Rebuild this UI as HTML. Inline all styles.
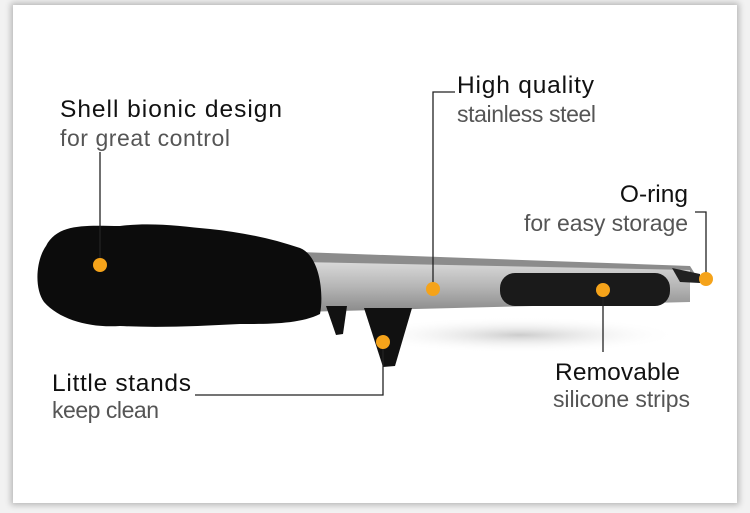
<!DOCTYPE html>
<html><head><style>
body{margin:0;background:#f2f2f2;}
.c{position:absolute;left:13px;top:5px;width:724px;height:498px;background:#fff;box-shadow:0 0 6px 2px rgba(0,0,0,0.25);}
svg{position:absolute;left:0;top:0}
text{font-family:"Liberation Sans",sans-serif;font-size:24.5px}
.b{fill:#111}
.g{fill:#555;font-size:23px}
</style></head><body>
<div class="c"></div>
<svg width="750" height="513" viewBox="0 0 750 513">
<defs><linearGradient id="st" x1="0" y1="0" x2="0" y2="1">
<stop offset="0" stop-color="#d9d9d9"/><stop offset="0.5" stop-color="#b5b5b5"/><stop offset="1" stop-color="#8a8a8a"/></linearGradient>
<radialGradient id="sh" cx="0.5" cy="0.5" r="0.5"><stop offset="0" stop-color="#ccc"/><stop offset="1" stop-color="#fff" stop-opacity="0"/></radialGradient></defs>
<ellipse cx="520" cy="335" rx="160" ry="18" fill="url(#sh)"/>
<polygon points="300,252 690,266 695,274 300,262" fill="#8c8c8c"/>
<polygon points="300,262 690,270 690,302 300,312" fill="url(#st)"/>
<rect x="500" y="273" width="170" height="33" rx="15" fill="#1a1a1a"/>
<path d="M672,268 L700,274 L700,283 L680,282Z" fill="#222"/>
<path d="M326,306 L347,306 L343,334 L336,335Z" fill="#111"/>
<path d="M364,308 L412,308 L395,366 L383,367Z" fill="#111"/>
<path d="M46,246 C58,222 90,226 120,226 C150,222 180,226 210,229 C240,232 270,238 300,248 C320,256 324,294 320,314 C300,324 270,324 240,324 C200,326 160,328 120,326 C90,328 60,320 44,302 C34,288 36,260 46,246Z" fill="#0c0c0c"/>
<g stroke="#222" stroke-width="1.3" fill="none">
<path d="M100,152 V265"/>
<path d="M455,92 H433 V289"/>
<path d="M695,212 H706 V279"/>
<path d="M195,395 H383 V342"/>
<path d="M603,290 V352"/>
</g>
<g fill="#f5a31a">
<circle cx="100" cy="265" r="7"/>
<circle cx="433" cy="289" r="7"/>
<circle cx="706" cy="279" r="7"/>
<circle cx="383" cy="342" r="7"/>
<circle cx="603" cy="290" r="7"/>
</g>
<text x="60" y="117" class="b" textLength="222">Shell bionic design</text>
<text x="60" y="146" class="g" textLength="170">for great control</text>
<text x="457" y="93" class="b" textLength="137">High quality</text>
<text x="457" y="122" class="g" textLength="139">stainless steel</text>
<text x="688" y="202" class="b" text-anchor="end">O-ring</text>
<text x="524" y="231" class="g" textLength="164">for easy storage</text>
<text x="52" y="391" class="b" textLength="139">Little stands</text>
<text x="52" y="418" class="g" textLength="107">keep clean</text>
<text x="555" y="380" class="b" textLength="125">Removable</text>
<text x="553" y="407" class="g" textLength="137">silicone strips</text>
</svg>
</body></html>
